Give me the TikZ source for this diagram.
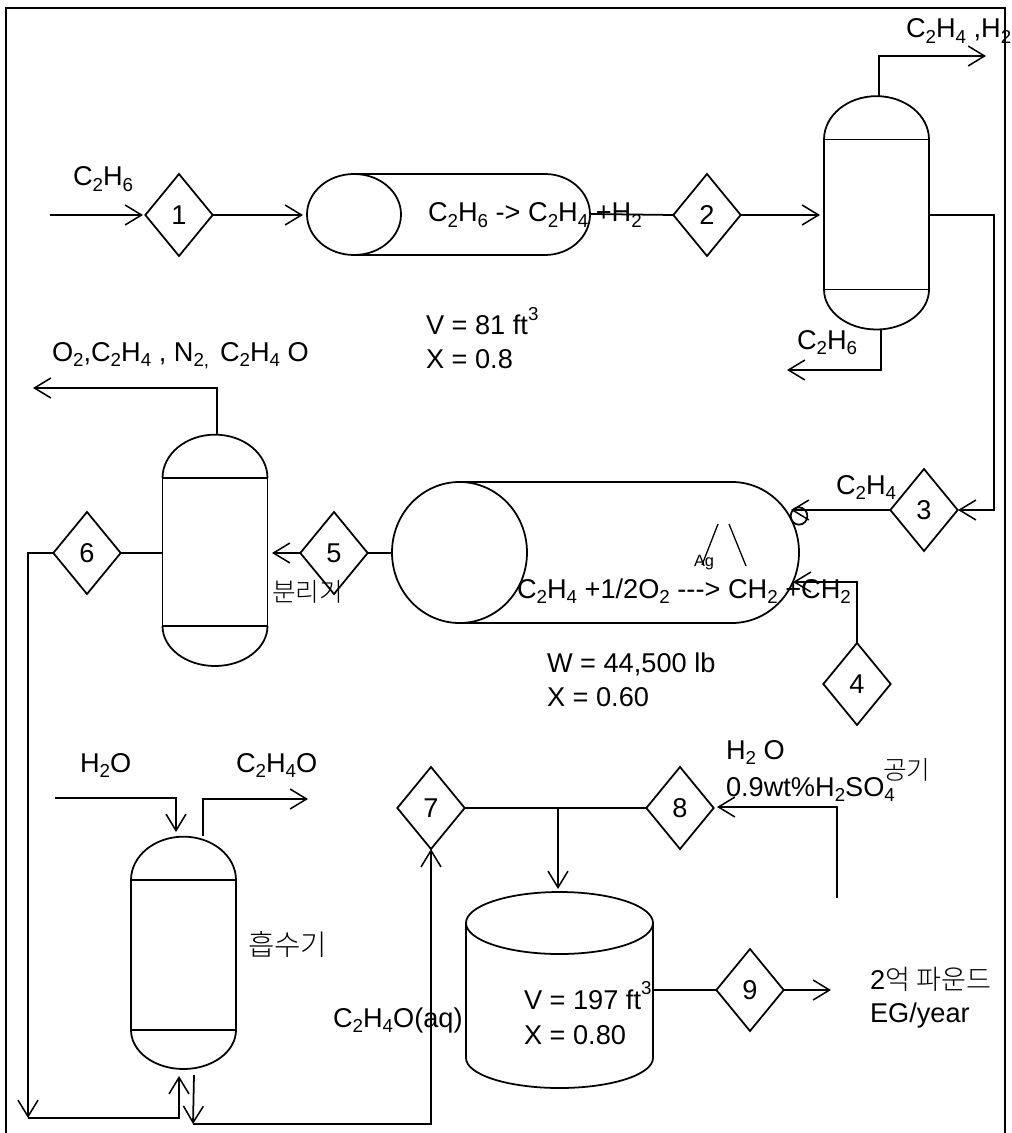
\documentclass[tikz,border=0pt]{standalone}
\usepackage{fontspec}
\setmainfont{Liberation Sans}
\newfontfamily\krfont{Noto Sans CJK KR Light}
\usetikzlibrary{shapes.geometric,arrows.meta}
\newcommand{\sbs}[1]{\raisebox{-0.22em}{\fontsize{16}{16}\selectfont #1}}
\newcommand{\sps}[1]{\raisebox{0.52em}{\fontsize{16}{16}\selectfont #1}}
\tikzset{
    stage/.style={diamond, draw, aspect=0.83, minimum width=2.02cm, minimum height=2.46cm, inner sep=0pt, outer sep=0pt},
    label/.style={anchor=base west, inner sep=0pt, outer sep=0pt},
    krlabel/.style={anchor=base west, inner sep=0pt, outer sep=0pt, font=\krfont\fontsize{22}{24}\selectfont},
    shell/.style={rectangle, draw, minimum width=3.15cm, minimum height=4.5cm, inner sep=0pt, outer sep=0pt},
    drum/.style={ellipse, draw, inner sep=0pt, outer sep=0pt},
}
\begin{document}
\begin{tikzpicture}[x=0.03cm, y=-0.03cm, line width=1.5pt, >={Straight Barb[length=14pt, width=17pt, line width=1.3pt]}, font=\fontsize{23.2}{27}\selectfont]
    \useasboundingbox (0,0) rectangle (1011,1133);
    \coordinate (frameBL) at (6,1133);
    \coordinate (frameTL) at (6,8);
    \coordinate (frameTR) at (1005,8);
    \coordinate (frameBR) at (1005,1133);
    \draw (frameBL) -- (frameTL) -- (frameTR) -- (frameBR);

    \node (dia1) [stage] at (179,215) {1};
    \node (dia2) [stage] at (707,215) {2};
    \node (dia3) [stage] at (924,510) {3};
    \node (dia4) [stage] at (857,684) {4};
    \node (dia5) [stage] at (334,553) {5};
    \node (dia6) [stage] at (87,553) {6};
    \node (dia7) [stage] at (431,808) {7};
    \node (dia8) [stage] at (680,808) {8};
    \node (dia9) [stage] at (750,990) {9};

    \node (react1) [drum, minimum width=2.82cm, minimum height=2.43cm] at (354,214.5) {};
    \draw (react1.north) -- (545,174) arc[start angle=90, end angle=-90, x radius=1.35cm, y radius=1.215cm] -- (react1.south);

    \node (react2) [drum, minimum width=4.05cm, minimum height=4.23cm] at (459.5,552.5) {};
    \draw (react2.north) -- (732,482) arc[start angle=90, end angle=-90, x radius=2.01cm, y radius=2.115cm] -- (react2.south);
    \node (port3) [drum, minimum width=0.5cm, minimum height=0.52cm] at (799,516) {};

    \node (colA) [shell] at (876.5,214.5) {};
    \draw (colA.north west) arc[start angle=180, end angle=0, x radius=1.575cm, y radius=1.3cm];
    \draw (colA.south west) arc[start angle=180, end angle=360, x radius=1.575cm, y radius=1.2cm];
    \node (colB) [shell, minimum height=4.44cm] at (215,552) {};
    \draw (colB.north west) arc[start angle=180, end angle=0, x radius=1.575cm, y radius=1.3cm];
    \draw (colB.south west) arc[start angle=180, end angle=360, x radius=1.575cm, y radius=1.2cm];
    \node (colC) [shell] at (183.5,955) {};
    \draw (colC.north west) arc[start angle=180, end angle=0, x radius=1.575cm, y radius=1.3cm];
    \draw (colC.south west) arc[start angle=180, end angle=360, x radius=1.575cm, y radius=1.17cm];

    \node (tank) [drum, minimum width=5.61cm, minimum height=1.86cm] at (559.5,923) {};
    \draw (tank.west) -- (466,1058) arc[start angle=180, end angle=360, x radius=2.805cm, y radius=0.9cm] -- (tank.east);

    \coordinate (feed) at (50,215);
    \coordinate (dia1in) at (143,215);
    \coordinate (react1in) at (303,215);
    \coordinate (react1out) at (591,214);
    \coordinate (colAin) at (820,215);
    \coordinate (colAside) at (929,215);
    \coordinate (colAbend) at (994,215);
    \coordinate (dia3in) at (958,510);
    \coordinate (colAtop) at (879,96);
    \coordinate (topEnd) at (986,56);
    \coordinate (colAbot) at (881,330);
    \coordinate (botEnd) at (787,370);
    \coordinate (react2in) at (791,510);
    \coordinate (react2low) at (793,582);
    \coordinate (dia5out) at (272,553);
    \coordinate (colBtop) at (217,434);
    \coordinate (ventEnd) at (33,388);
    \coordinate (colBside) at (162,553);
    \coordinate (drop) at (28,1118);
    \coordinate (colCin) at (179,1076);
    \coordinate (colCout) at (194,1075);
    \coordinate (colCdrop) at (193,1124);
    \coordinate (water) at (55,798);
    \coordinate (colCtop) at (176,832);
    \coordinate (colCvent) at (203,836);
    \coordinate (ventC) at (308,799);
    \coordinate (tee) at (558,808);
    \coordinate (tankin) at (558,889);
    \coordinate (acid) at (837,898);
    \coordinate (dia8in) at (717,807);
    \coordinate (tankout) at (653,990);
    \coordinate (prod) at (831,990);
    \coordinate (react2out) at (392,553);

    \draw[->] (feed) -- (dia1in);
    \draw[->] (dia1.east) -- (react1in);
    \draw (react1out) -- (dia2.west);
    \draw[->] (dia2.east) -- (colAin);
    \draw[->] (colAside) -- (colAbend) |- (dia3in);
    \draw[->] (colAtop) |- (topEnd);
    \draw[->] (colAbot) |- (botEnd);
    \draw[->] (dia3.west) -- (react2in);
    \draw[->] (dia4.north) |- (react2low);
    \draw (react2out) -- (dia5.east);
    \draw[->] (dia5.west) -- (dia5out);
    \draw[->] (colBtop) |- (ventEnd);
    \draw (colBside) -- (dia6.east);
    \draw[->] (dia6.west) -| (drop);
    \draw[->] (drop) -| (colCin);
    \draw[->] (colCout) -- (colCdrop);
    \draw[->] (colCdrop) -| (dia7.south);
    \draw[->] (water) -| (colCtop);
    \draw[->] (colCvent) |- (ventC);
    \draw (dia7.east) -- (dia8.west);
    \draw[->] (tee) -- (tankin);
    \draw[->] (acid) |- (dia8in);
    \draw (tankout) -- (dia9.west);
    \draw[->] (dia9.east) -- (prod);

    \coordinate (hatLa) at (718,524);
    \coordinate (hatLb) at (702,565);
    \coordinate (hatRa) at (729,524);
    \coordinate (hatRb) at (746,566);
    \draw[line width=1.1pt] (hatLa) -- (hatLb);
    \draw[line width=1.1pt] (hatRa) -- (hatRb);

    \node (txtFeed) [label] at (73,186) {C\sbs{2}H\sbs{6}};
    \node (txtRx1) [label] at (428,222) {C\sbs{2}H\sbs{6} -> C\sbs{2}H\sbs{4} +H\sbs{2}};
    \node (txtV1) [label] at (426,335) {V = 81 ft\sps{3}};
    \node (txtX1) [label] at (426,368) {X = 0.8};
    \node (txtTop) [label] at (906,38) {C\sbs{2}H\sbs{4} ,H\sbs{2}};
    \node (txtBot) [label] at (797,349) {C\sbs{2}H\sbs{6}};
    \node (txtVent) [label] at (52,361) {O\sbs{2},C\sbs{2}H\sbs{4} , N\sbs{2,}\hspace{0.4em}C\sbs{2}H\sbs{4} O};
    \node (txtEth) [label] at (836,494) {C\sbs{2}H\sbs{4}};
    \node (txtAg) [label, font=\fontsize{14}{16}\selectfont] at (694,566) {Ag};
    \node (txtRx2) [label] at (517,598) {C\sbs{2}H\sbs{4} +1/2O\sbs{2} -{}-{}-> CH\sbs{2} +CH\sbs{2}};
    \node (txtW) [label] at (547,672) {W = 44,500 lb};
    \node (txtX2) [label] at (547,706) {X = 0.60};
    \node (txtSep) [krlabel] at (272,601) {분리기};
    \node (txtWater) [label] at (80,772) {H\sbs{2}O};
    \node (txtVentC) [label] at (236,772) {C\sbs{2}H\sbs{4}O};
    \node (txtAbs) [krlabel, font=\krfont\fontsize{24.5}{26}\selectfont] at (248,955) {흡수기};
    \node (txtAq) [label] at (333,1027) {C\sbs{2}H\sbs{4}O(aq)};
    \node (txtV3) [label] at (524,1009) {V = 197 ft\sps{3}};
    \node (txtX3) [label] at (524,1044) {X = 0.80};
    \node (txtH2O) [label] at (726,759) {H\sbs{2} O};
    \node (txtAcid) [label] at (726,796) {0.9wt\%H\sbs{2}SO\sbs{4}};
    \node (txtAir) [krlabel] at (883,779) {공기};
    \node (txtProd) [label] at (870,989) {2{\krfont 억 파운드}};
    \node (txtEG) [label] at (870,1022) {EG/year};
\end{tikzpicture}
\end{document}
